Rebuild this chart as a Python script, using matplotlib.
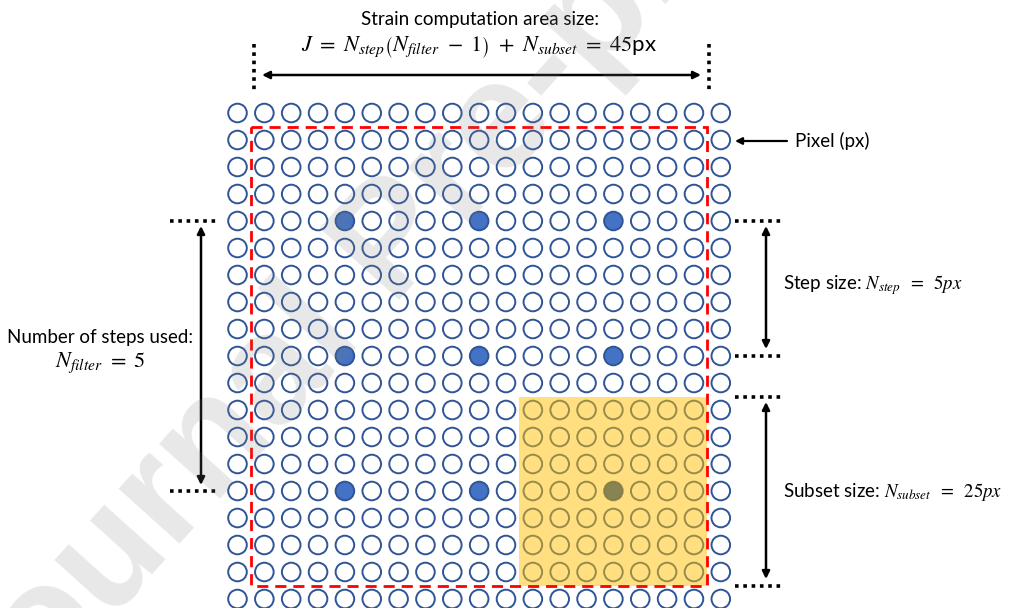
import matplotlib
matplotlib.use("Agg")
import matplotlib.pyplot as plt
from matplotlib.patches import Circle, Rectangle

plt.rcParams['mathtext.fontset'] = 'stix'

# ---- data ----
n_cols = 19
n_rows = 19
filled_cols = [4, 9, 14]
filled_rows = [4, 9, 14]
highlight_point = (14, 14)       # the gray (centre) point of the subset
subset_half = 3.5                # subset spans centre +/- 3.5 cells
area_range = (0.5, 17.5)         # red dashed strain computation area (grid units)

title_line1 = "Strain computation area size:"
title_line2 = r"$J\ =\ N_{step}\left(N_{filter}\ -\ 1\right)\ +\ N_{subset}\ =\ 45$px"
pixel_label = "Pixel (px)"
steps_label1 = "Number of steps used:"
steps_label2 = r"$N_{filter}\ =\ 5$"
step_label = r"Step size: $N_{step}\;\;=\;\;5px$"
subset_label = r"Subset size: $N_{subset}\;\;=\;\;25px$"
watermark = "Journal Pre-proof"

# ---- layout (pixel coordinates) ----
W, H = 1020, 608
x0, dx = 237.5, 26.85
y0, dy = 113.0, 27.0
r = 9.3

def gx(c):
    return x0 + c * dx

def gy(rw):
    return y0 + rw * dy

fig = plt.figure(figsize=(W / 100, H / 100), dpi=100)
ax = fig.add_axes([0, 0, 1, 1])
ax.set_xlim(0, W)
ax.set_ylim(H, 0)
ax.axis('off')

edge = '#2F5597'
fillc = '#4472C4'
for rw in range(n_rows):
    for c in range(n_cols):
        filled = (c in filled_cols) and (rw in filled_rows)
        ax.add_patch(Circle((gx(c), gy(rw)), r, facecolor=fillc if filled else 'white',
                            edgecolor=edge, lw=1.4, zorder=2))

# subset (yellow translucent)
hc, hr = highlight_point
ax.add_patch(Rectangle((gx(hc - subset_half), gy(hr - subset_half)),
                       2 * subset_half * dx, 2 * subset_half * dy,
                       facecolor='#FFC000', alpha=0.5, edgecolor='none', zorder=3))
ax.add_patch(Circle((gx(hc), gy(hr)), r, facecolor='#5a5a3a', alpha=0.35,
                    edgecolor='none', zorder=3.5))

# red dashed area
a0, a1 = area_range
ax.add_patch(Rectangle((gx(a0), gy(a0)), (a1 - a0) * dx, (a1 - a0) * dy,
                       facecolor='none', edgecolor='#FF0000', lw=2.0,
                       linestyle=(0, (4, 2.5)), zorder=4))

dot = dict(color='black', lw=2.6, linestyle=(0, (1, 1.3)), zorder=5)
arrow = dict(arrowstyle='<|-|>', color='black', lw=1.8, mutation_scale=11,
             shrinkA=0, shrinkB=0)

# top
ax.plot([254, 254], [44, 90], **dot)
ax.plot([709, 709], [44, 90], **dot)
ax.annotate('', xy=(262, 75), xytext=(701, 75), arrowprops=arrow)
ax.text(480, 19, title_line1, fontsize=13.5, ha='center', va='center', fontfamily='Lato')
ax.text(479, 47, title_line2, fontsize=16, ha='center', va='center', fontfamily='Lato')

# pixel label
ax.annotate('', xy=(735, 141), xytext=(787, 141),
            arrowprops=dict(arrowstyle='-|>', color='black', lw=1.6, mutation_scale=10,
                            shrinkA=0, shrinkB=0))
ax.text(795, 141, pixel_label, fontsize=13.5, ha='left', va='center', fontfamily='Lato')

# left
ax.plot([170, 217], [gy(4), gy(4)], **dot)
ax.plot([170, 217], [gy(14), gy(14)], **dot)
ax.annotate('', xy=(201, 226), xytext=(201, 485), arrowprops=arrow)
ax.text(100, 337, steps_label1, fontsize=13.5, ha='center', va='center', fontfamily='Lato')
ax.text(100, 363, steps_label2, fontsize=16, ha='center', va='center', fontfamily='Lato')

# right: step
ax.plot([735, 782], [gy(4), gy(4)], **dot)
ax.plot([735, 782], [gy(9), gy(9)], **dot)
ax.annotate('', xy=(766, 226), xytext=(766, 349), arrowprops=arrow)
ax.text(783, 285, step_label, fontsize=13.5, ha='left', va='center', fontfamily='Lato')

# right: subset
ax.plot([735, 782], [gy(10.5), gy(10.5)], **dot)
ax.plot([735, 782], [gy(17.5), gy(17.5)], **dot)
ax.annotate('', xy=(766, 402), xytext=(766, 579), arrowprops=arrow)
ax.text(783, 492, subset_label, fontsize=13.5, ha='left', va='center', fontfamily='Lato')

# watermark (translucent, on top)
wm = ax.text(395, 245, watermark, fontsize=112, color='#808080', alpha=0.18,
             rotation=48, ha='center', va='center', fontfamily='Liberation Sans',
             fontweight='bold', zorder=10)
wm.set_clip_on(True)

fig.savefig('out.png', dpi=100)
